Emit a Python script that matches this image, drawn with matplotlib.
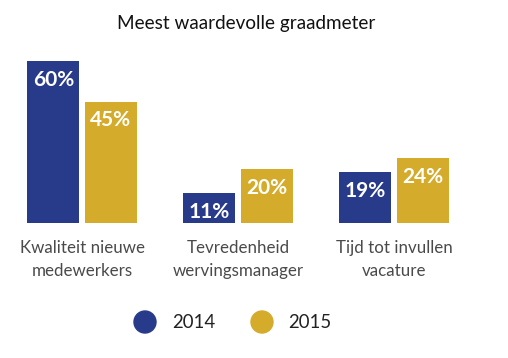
import matplotlib
matplotlib.use('Agg')
import matplotlib.pyplot as plt
import numpy as np

# Data
categories = ['Kwaliteit nieuwe\nmedewerkers', 'Tevredenheid\nwervingsmanager', 'Tijd tot invullen\nvacature']
years = ['2014', '2015']
values_2014 = [60, 11, 19]
values_2015 = [45, 20, 24]

blue = '#283a8a'
gold = '#d4ab2b'

plt.rcParams['font.family'] = ['Lato', 'DejaVu Sans']

fig = plt.figure(figsize=(5.08, 3.58), dpi=100)
W, H = 508, 358
# axes placed in pixel terms: left 4, right 472, bottom at y=223, top at y=34
ax = fig.add_axes([4 / W, (H - 223) / H, 468 / W, 189 / H])

x = np.arange(len(categories))
width = 0.333
off = 0.183
b1 = ax.bar(x - off, values_2014, width, color=blue)
b2 = ax.bar(x + off, values_2015, width, color=gold)

ax.set_xlim(-0.5, 2.5)
ax.set_ylim(0, 70)

# percentage labels inside the bars, near the top
for bars, vals in [(b1, values_2014), (b2, values_2015)]:
    for b, v in zip(bars, vals):
        ax.annotate(f'{v}%', (b.get_x() + b.get_width() / 2, v),
                    xytext=(0, -19), textcoords='offset pixels',
                    ha='center', va='center', color='white',
                    fontsize=15, fontweight='bold')

ax.set_xticks(x)
ax.set_xticklabels(categories, fontsize=12.2, color='#4a4a4a', linespacing=1.55)
ax.tick_params(axis='x', length=0, pad=12)
ax.set_yticks([])
for s in ax.spines.values():
    s.set_visible(False)

fig.text(246 / W, 1 - 24 / H, 'Meest waardevolle graadmeter', ha='center', va='center',
         fontsize=13.6, color='#111111')

# legend
legend_y = 1 - 322 / H
fig.patches.append(matplotlib.patches.Ellipse((145 / W, legend_y), 22 / W, 22 / H,
                                              transform=fig.transFigure, color=blue))
fig.patches.append(matplotlib.patches.Ellipse((262 / W, legend_y), 22 / W, 22 / H,
                                              transform=fig.transFigure, color=gold))
fig.text(172 / W, legend_y, years[0], ha='left', va='center', fontsize=13.4, color='#222222')
fig.text(288 / W, legend_y, years[1], ha='left', va='center', fontsize=13.4, color='#222222')

fig.savefig('out.png', dpi=100)
